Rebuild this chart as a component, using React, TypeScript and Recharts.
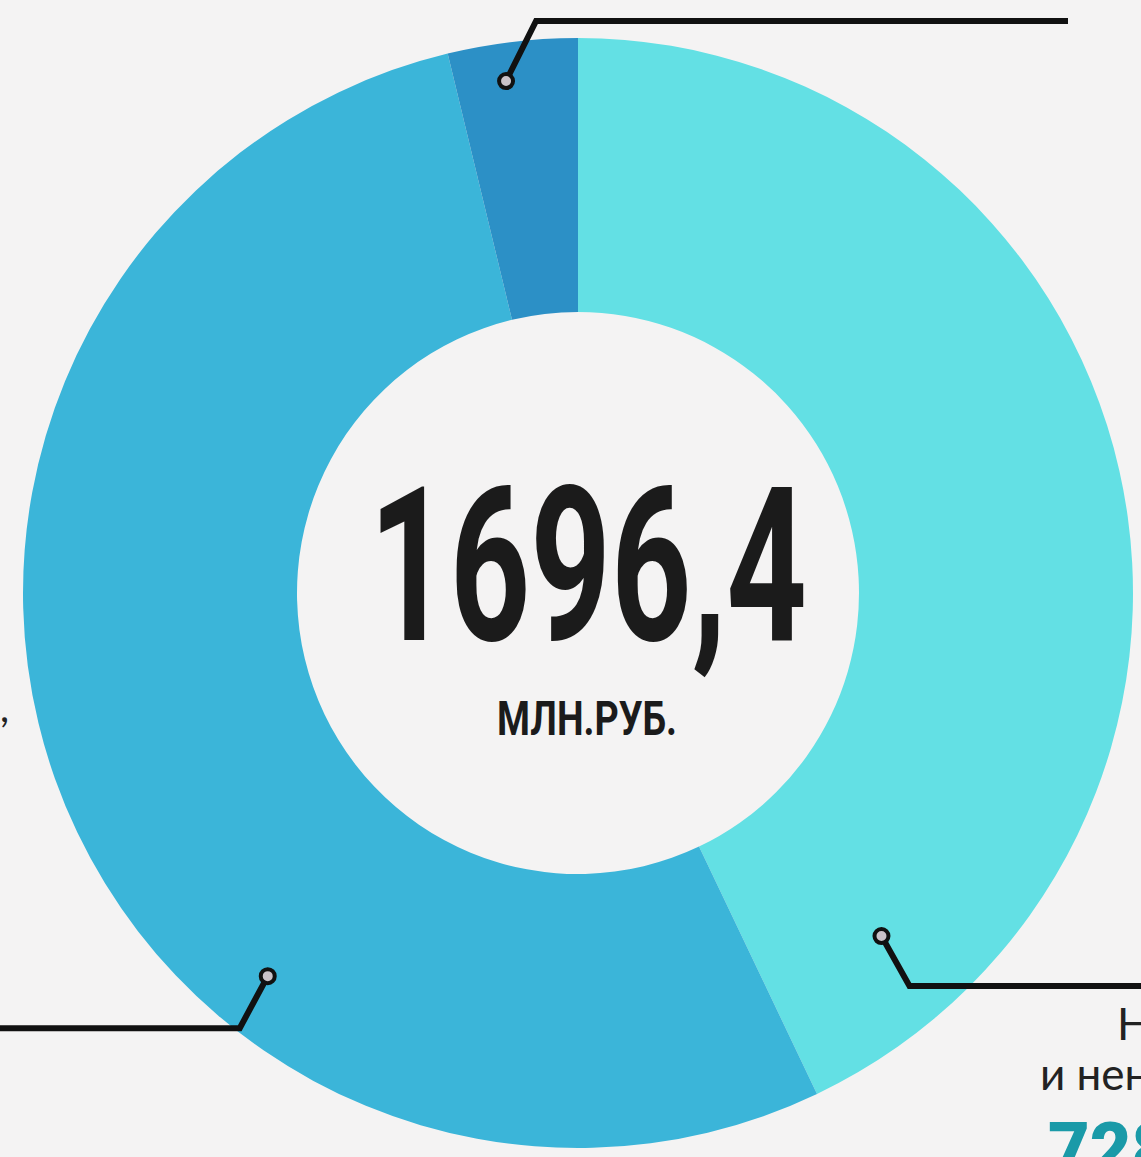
import React from "react";
import { PieChart, Pie, Cell } from "recharts";

// доходы бюджета, млн руб.
const NAMES = ["Налоговые и неналоговые доходы", "Безвозмездные поступления", "Прочие"];
const VALUES = [728.0, 904.4, 64.0];
const COLORS = ["#63e0e4", "#3bb5d9", "#2c90c6"];
const TOTAL_LABEL = "1696,4";
const UNIT_LABEL = "МЛН.РУБ.";

// where each leader line starts on the ring (degrees clockwise from 12 o'clock, radius)
const ANCHOR_ANGLE = [138.5, 219, 352];
const ANCHOR_RADIUS = [458, 493, 517];

const data = NAMES.map((name, i) => ({ name, value: VALUES[i] }));

const CX = 578;
const CY = 593;
const W = 1141;
const CONDENSED = "Roboto, 'Liberation Sans', sans-serif";

function polar(angle: number, r: number) {
  const rad = (angle * Math.PI) / 180;
  return { x: CX + r * Math.sin(rad), y: CY - r * Math.cos(rad) };
}

function renderLabel(props: any) {
  const i = props.index;
  const p = polar(ANCHOR_ANGLE[i], ANCHOR_RADIUS[i]);
  let path = "";
  if (i === 0) path = `M${p.x},${p.y} L${p.x + 28},${p.y + 50} L${W},${p.y + 50}`;
  if (i === 1) path = `M${p.x},${p.y} L${p.x - 28},${p.y + 52} L0,${p.y + 52}`;
  if (i === 2) path = `M${p.x},${p.y} L${p.x + 30},${p.y - 60} L1068,${p.y - 60}`;
  return (
    <g key={`lbl-${i}`}>
      <path d={path} fill="none" stroke="#111" strokeWidth={6} strokeLinejoin="miter" />
      <circle cx={p.x} cy={p.y} r={7} fill="#c9c2c8" stroke="#111" strokeWidth={4} />
      {i === 0 && (
        <g>
          <text
            x={CX + 10}
            y={640}
            textAnchor="middle"
            fontFamily={CONDENSED}
            fontWeight={700}
            fontSize={216}
            fill="#1b1b1b"
            textLength={438}
            lengthAdjust="spacingAndGlyphs"
          >
            {TOTAL_LABEL}
          </text>
          <text
            x={587}
            y={735}
            textAnchor="middle"
            fontFamily={CONDENSED}
            fontWeight={700}
            fontSize={49}
            fill="#1b1b1b"
            textLength={180}
            lengthAdjust="spacingAndGlyphs"
          >
            {UNIT_LABEL}
          </text>
          <text x={1117} y={1040} fontFamily="Lato, 'Open Sans', sans-serif" fontSize={44} fill="#222">
            Налоговые
          </text>
          <text x={1040} y={1090} fontFamily="Lato, 'Open Sans', sans-serif" fontSize={44} fill="#222">
            и неналоговые доходы
          </text>
          <text
            x={1048}
            y={1174}
            fontFamily="Roboto, 'Open Sans', sans-serif"
            fontWeight={900}
            fontSize={72}
            fill="#1a9aa8"
          >
            {VALUES[0].toFixed(1).replace(".", ",")}
          </text>
          <text x={9} y={722} textAnchor="end" fontFamily="Lato, sans-serif" fontSize={40} fill="#222">
            поступления,
          </text>
        </g>
      )}
    </g>
  );
}

export default function App() {
  return (
    <div style={{ position: "absolute", left: 0, top: 0, width: 1141, height: 1157, background: "#f4f3f3", overflow: "hidden" }}>
      <PieChart width={1141} height={1157} margin={{ top: 0, right: 0, bottom: 0, left: 0 }}>
        <Pie
          data={data}
          dataKey="value"
          nameKey="name"
          cx={CX}
          cy={CY}
          innerRadius={281}
          outerRadius={555}
          startAngle={90}
          endAngle={-270}
          stroke="none"
          label={renderLabel}
          labelLine={false}
          isAnimationActive={false}
        >
          {data.map((_, i) => (
            <Cell key={i} fill={COLORS[i]} />
          ))}
        </Pie>
      </PieChart>
    </div>
  );
}
